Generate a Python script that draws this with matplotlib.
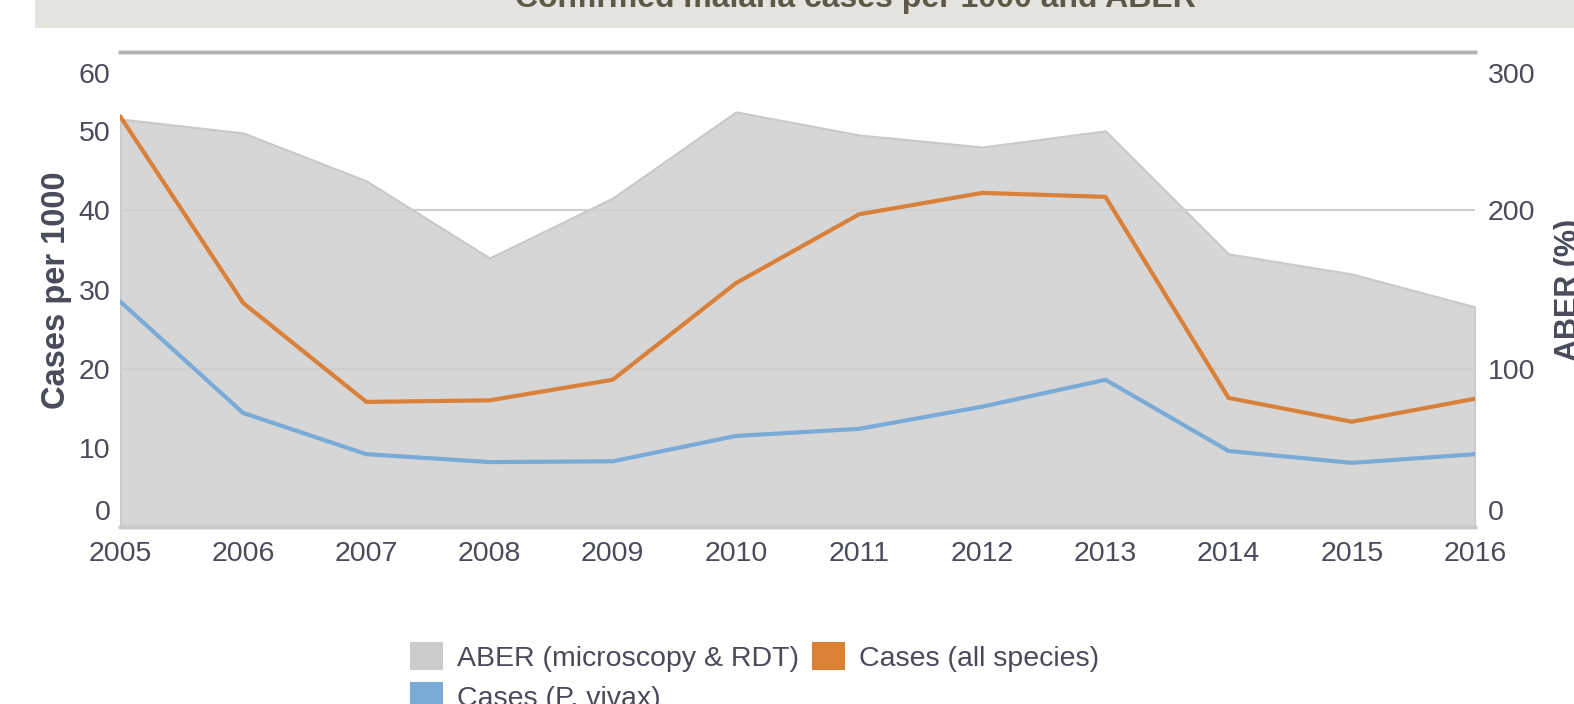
import numpy as np
import matplotlib
matplotlib.use("Agg")
import matplotlib.pyplot as plt
import matplotlib.transforms as mtransforms
from matplotlib.patches import Patch, Rectangle

plt.rcParams['font.family'] = ['Liberation Sans', 'DejaVu Sans']

# data
years = [2005, 2006, 2007, 2008, 2009, 2010, 2011, 2012, 2013, 2014, 2015, 2016]
aber = [257.7, 248.9, 218.6, 169.9, 207.8, 262.2, 247.6, 240.0, 250.2, 172.5, 159.8, 139.0]
cases_all = [51.9, 28.3, 15.8, 16.0, 18.6, 30.8, 39.5, 42.2, 41.7, 16.3, 13.3, 16.2]
cases_vivax = [28.5, 14.4, 9.2, 8.2, 8.3, 11.5, 12.4, 15.2, 18.6, 9.6, 8.1, 9.2]
left_ticks = [0, 10, 20, 30, 40, 50, 60]
right_ticks = [0, 100, 200, 300]

title = "Confirmed malaria cases per 1000 and ABER"
text_col = "#4a4b5a"
fill_col = "#d6d6d6"
orange = "#d9813a"
blue = "#7aaad6"

fig = plt.figure(figsize=(15.74, 7.04), dpi=100)

# title band at the top, partly cut off
fig.patches.append(Rectangle((35 / 1574, 1 - 28 / 704), 1, 28 / 704, transform=fig.transFigure,
                             facecolor="#e4e3de", edgecolor="none", zorder=0))
fig.text(855 / 1574, 1 + 1 / 704, title, ha="center", va="center", fontsize=23,
         fontweight="bold", color="#5b5a48")

ax = fig.add_axes([120 / 1574, 1 - 527 / 704, 1355 / 1574, 475 / 704])
ax2 = ax.twinx()
ax.set_zorder(ax2.get_zorder() + 1)
ax.patch.set_visible(False)

# ABER area on the right axis
ax2.fill_between(years, 0, aber, facecolor=fill_col, edgecolor="#c9c9c9", linewidth=1.5, zorder=1)
ax2.set_ylim(0, 300)
ax2.set_yticks(right_ticks)
ax2.grid(axis="y", color="#cfcfcf", linewidth=1.5, zorder=2)
ax2.set_axisbelow(False)

# cases on the left axis
ax.plot(years, cases_all, color=orange, linewidth=3, solid_capstyle="round")
ax.plot(years, cases_vivax, color=blue, linewidth=3, solid_capstyle="round")
ax.set_ylim(0, 60)
ax.set_yticks(left_ticks)
ax.set_xlim(years[0], years[-1])
ax.set_xticks(years)

for a in (ax, ax2):
    for s in ("left", "right"):
        a.spines[s].set_visible(False)
    a.spines["top"].set_color("#b3b3b3")
    a.spines["top"].set_linewidth(2.5)
    a.spines["bottom"].set_color("#c9c9c9")
    a.spines["bottom"].set_linewidth(2.5)
    a.tick_params(length=0, labelsize=20.5, labelcolor=text_col)

ax.tick_params(axis="y", pad=7)
ax2.tick_params(axis="y", pad=9)
ax.tick_params(axis="x", pad=10)

# end labels sit inside the axis range, as in the reference
down = mtransforms.ScaledTranslation(0, -15 / 72, fig.dpi_scale_trans)
up = mtransforms.ScaledTranslation(0, 12 / 72, fig.dpi_scale_trans)
for a in (ax, ax2):
    labs = a.get_yticklabels()
    labs[0].set_transform(labs[0].get_transform() + up)
    labs[-1].set_transform(labs[-1].get_transform() + down)

fig.text(56 / 1574, 1 - 290 / 704, "Cases per 1000", rotation=90, ha="center", va="center",
         fontsize=23.5, fontweight="bold", color=text_col)
fig.text(1569 / 1574, 1 - 290 / 704, "ABER (%)", rotation=90, ha="center", va="center",
         fontsize=22, fontweight="bold", color=text_col)

handles = [Patch(facecolor="#cccccc", label="ABER (microscopy & RDT)"),
           Patch(facecolor=blue, label="Cases (P. vivax)"),
           Patch(facecolor="#d98236", label="Cases (all species)")]
fig.legend(handles=handles, ncol=2, loc="upper left", bbox_to_anchor=(410 / 1574, 1 - 642 / 704),
           frameon=False, fontsize=20.5, labelcolor=text_col, handlelength=1.16, handleheight=1.16,
           handletextpad=0.49, columnspacing=0.45, labelspacing=0.36, borderpad=0, borderaxespad=0)

fig.savefig("out.png", dpi=100)
